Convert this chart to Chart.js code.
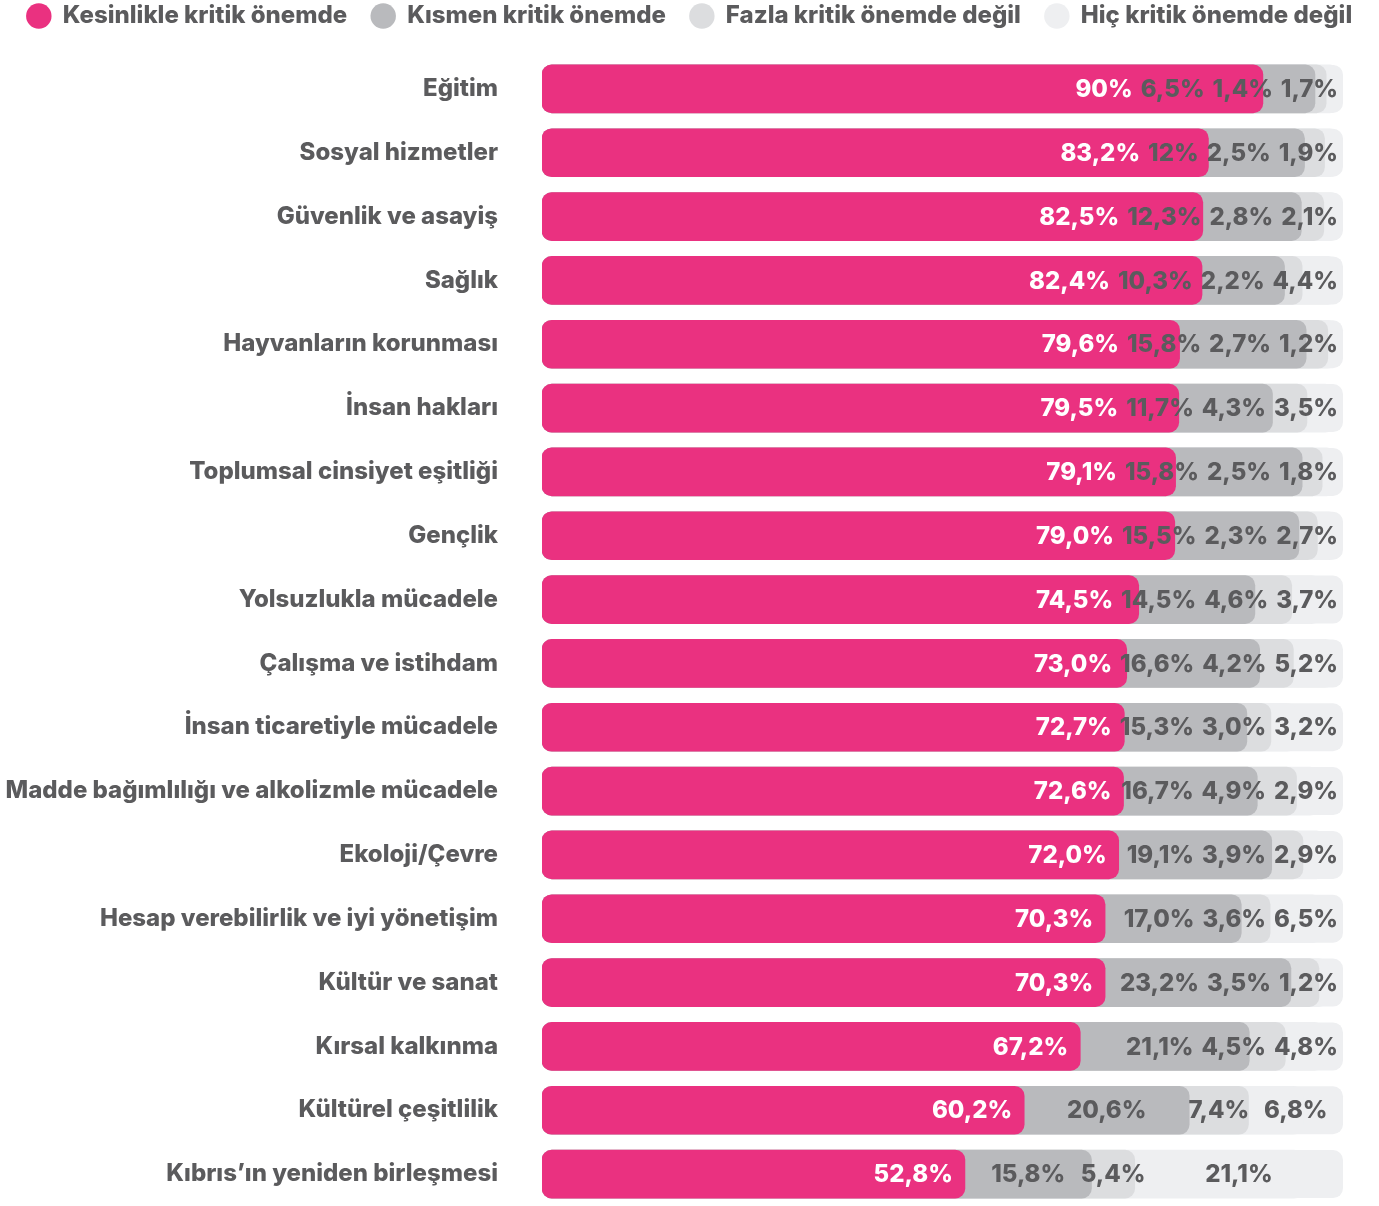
<!DOCTYPE html>
<html>
<head>
<meta charset="utf-8">
<script src="https://cdn.jsdelivr.net/npm/chart.js@4.4.1/dist/chart.umd.min.js"></script>
<style>
  html, body { margin: 0; padding: 0; background: #fff; }
</style>
</head>
<body>
<canvas id="importance-chart" width="1379" height="1206"></canvas>
<script>
const categories = [
  "Eğitim",
  "Sosyal hizmetler",
  "Güvenlik ve asayiş",
  "Sağlık",
  "Hayvanların korunması",
  "İnsan hakları",
  "Toplumsal cinsiyet eşitliği",
  "Gençlik",
  "Yolsuzlukla mücadele",
  "Çalışma ve istihdam",
  "İnsan ticaretiyle mücadele",
  "Madde bağımlılığı ve alkolizmle mücadele",
  "Ekoloji/Çevre",
  "Hesap verebilirlik ve iyi yönetişim",
  "Kültür ve sanat",
  "Kırsal kalkınma",
  "Kültürel çeşitlilik",
  "Kıbrıs’ın yeniden birleşmesi",
];

const seriesNames = [
  "Kesinlikle kritik önemde",
  "Kısmen kritik önemde",
  "Fazla kritik önemde değil",
  "Hiç kritik önemde değil",
];

// values as printed on the chart (percent, Turkish decimal comma)
const kesinlikle = ["90", "83,2", "82,5", "82,4", "79,6", "79,5", "79,1", "79,0", "74,5",
  "73,0", "72,7", "72,6", "72,0", "70,3", "70,3", "67,2", "60,2", "52,8"];
const kismen = ["6,5", "12", "12,3", "10,3", "15,8", "11,7", "15,8", "15,5", "14,5",
  "16,6", "15,3", "16,7", "19,1", "17,0", "23,2", "21,1", "20,6", "15,8"];
const fazla = ["1,4", "2,5", "2,8", "2,2", "2,7", "4,3", "2,5", "2,3", "4,6",
  "4,2", "3,0", "4,9", "3,9", "3,6", "3,5", "4,5", "7,4", "5,4"];
const hic = ["1,7", "1,9", "2,1", "4,4", "1,2", "3,5", "1,8", "2,7", "3,7",
  "5,2", "3,2", "2,9", "2,9", "6,5", "1,2", "4,8", "6,8", "21,1"];

const colors = ["#ea3180", "#b9babd", "#dcdddf", "#eeeff1"];
const textColor = "#5b5b5d";
const fontFamily = "Inter, 'Open Sans', sans-serif";
const radius = 10;

const printed = [kesinlikle, kismen, fazla, hic];
const toNum = (s) => parseFloat(s.replace(",", "."));
const values = printed.map((arr) => arr.map(toNum));

// each segment is drawn as a rounded bar from 0 to its running total,
// earlier series on top, so every segment shows a rounded right end
const runningTotals = values.map((_, k) =>
  categories.map((_, i) => values.slice(0, k + 1).reduce((t, arr) => t + arr[i], 0))
);

const trackPlugin = {
  id: "track",
  beforeDatasetsDraw(chart) {
    const { ctx, scales } = chart;
    const x0 = scales.x.getPixelForValue(0);
    const x1 = scales.x.getPixelForValue(100);
    ctx.save();
    ctx.fillStyle = colors[3];
    chart.getDatasetMeta(0).data.forEach((bar) => {
      ctx.beginPath();
      ctx.roundRect(x0, bar.y - bar.height / 2, x1 - x0, bar.height, radius);
      ctx.fill();
    });
    ctx.restore();
  },
};

const valueLabelPlugin = {
  id: "valueLabels",
  afterDatasetsDraw(chart) {
    const { ctx, scales } = chart;
    const end = scales.x.getPixelForValue(100);
    ctx.save();
    ctx.font = "800 24px " + fontFamily;
    ctx.textBaseline = "middle";
    ctx.textAlign = "left";
    categories.forEach((cat, i) => {
      const ends = printed.map((_, k) => chart.getDatasetMeta(k).data[i].x);
      const y = chart.getDatasetMeta(0).data[i].y + 1;
      let limit = end - 5;
      const placed = [];
      // small segments: centre in the segment, pushed left when crowded
      for (let k = 3; k >= 1; k--) {
        const text = printed[k][i] + "%";
        const w = ctx.measureText(text).width;
        const segRight = k === 3 ? end : ends[k];
        const center = (ends[k - 1] + segRight) / 2;
        const right = Math.min(center + w / 2, limit);
        placed.push({ text, left: right - w, color: textColor });
        limit = right - w - 8;
      }
      const pinkText = printed[0][i] + "%";
      const pw = ctx.measureText(pinkText).width;
      const pinkRight = Math.min(ends[0] - 12, limit);
      placed.push({ text: pinkText, left: pinkRight - pw, color: "#ffffff" });
      placed.forEach((p) => {
        ctx.fillStyle = p.color;
        ctx.fillText(p.text, p.left, y);
      });
    });
    ctx.restore();
  },
};

new Chart(document.getElementById("importance-chart"), {
  type: "bar",
  data: {
    labels: categories,
    datasets: seriesNames.map((name, k) => ({
      label: name,
      data: runningTotals[k],
      backgroundColor: colors[k],
      borderWidth: 0,
      borderRadius: radius,
      borderSkipped: false,
      grouped: false,
      barThickness: 48,
    })),
  },
  options: {
    indexAxis: "y",
    responsive: false,
    animation: false,
    layout: {
      padding: { top: -20, right: 0, bottom: -8, left: 0 },
    },
    plugins: {
      legend: {
        display: true,
        position: "top",
        labels: {
          usePointStyle: true,
          pointStyle: "circle",
          boxWidth: 26,
          boxHeight: 18,
          padding: 24,
          color: textColor,
          font: { family: fontFamily, weight: "800", size: 24 },
        },
      },
      tooltip: { enabled: false },
    },
    scales: {
      x: {
        min: 0,
        max: 100,
        position: "top",
        grid: { display: false, drawTicks: false },
        border: { display: false },
        ticks: { display: false },
        afterFit(scale) {
          scale.height = 19;
        },
      },
      y: {
        grid: { display: false, drawTicks: false },
        border: { display: false },
        afterFit(scale) {
          scale.width = 542;
          scale.paddingTop = 0;
          scale.paddingBottom = 0;
        },
        ticks: {
          padding: 44,
          color: textColor,
          font: { family: fontFamily, weight: "800", size: 24 },
        },
      },
      yRight: {
        type: "category",
        position: "right",
        grid: { display: false, drawTicks: false },
        border: { display: false },
        ticks: { display: false },
        afterFit(scale) {
          scale.width = 36;
          scale.paddingTop = 0;
          scale.paddingBottom = 0;
        },
      },
    },
  },
  plugins: [trackPlugin, valueLabelPlugin],
});
</script>
</body>
</html>
